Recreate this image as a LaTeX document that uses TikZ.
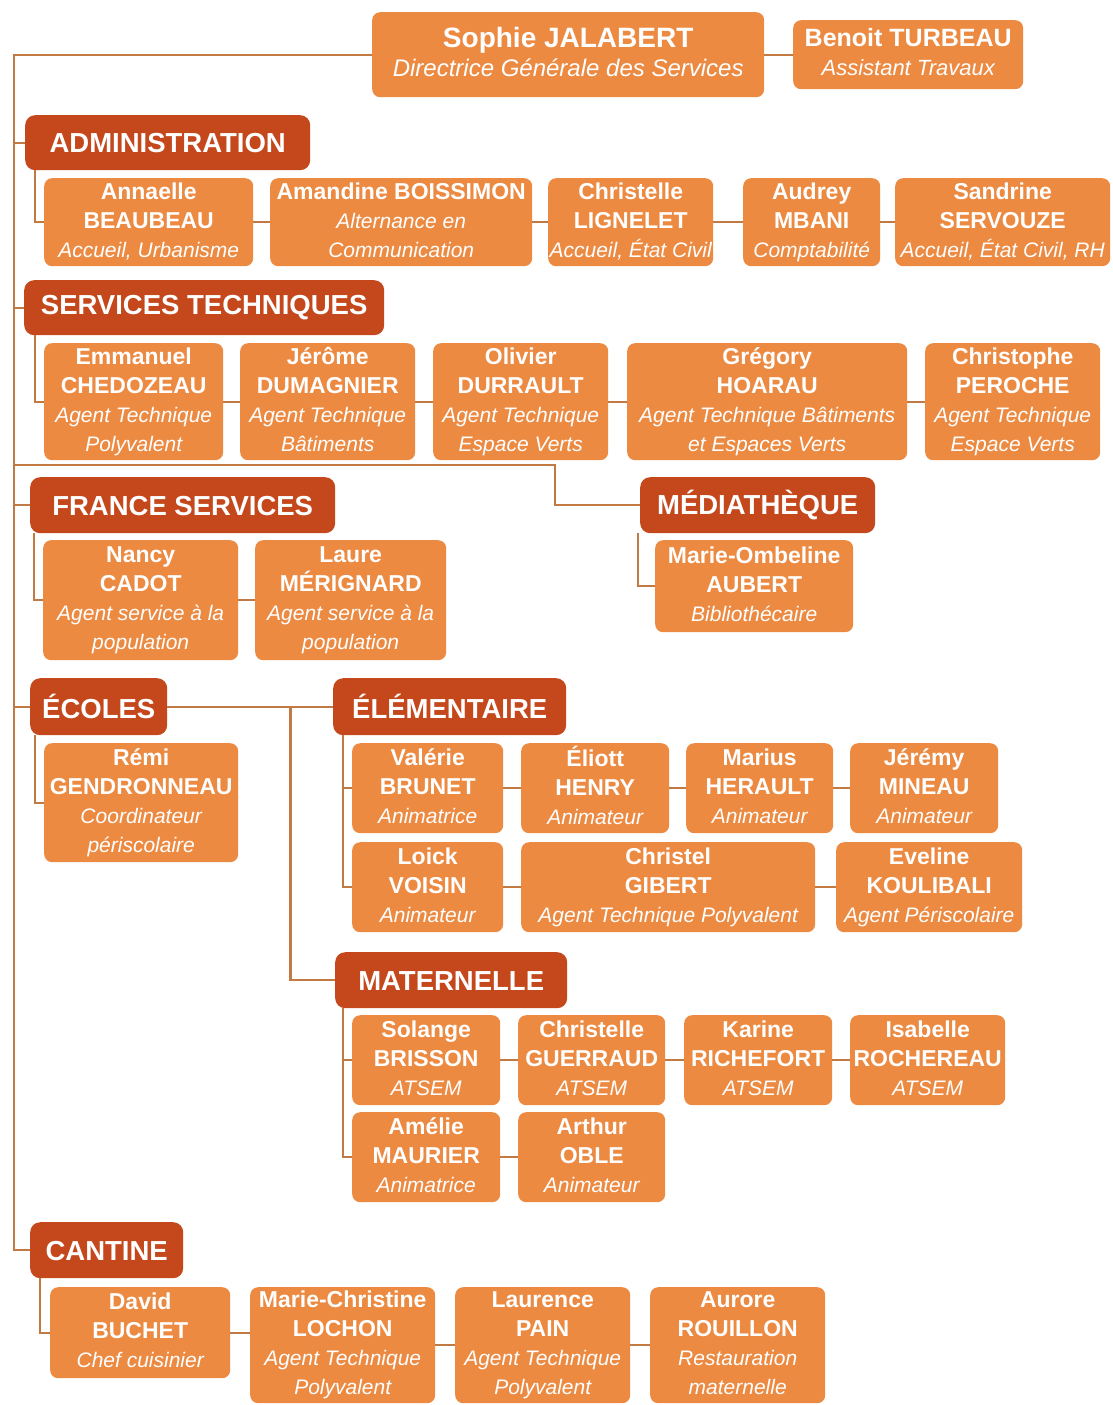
\documentclass[tikz,border=0pt]{standalone}
\usepackage{fontspec}
\setmainfont{Liberation Sans}
\definecolor{boxc}{HTML}{EC8A42}
\definecolor{hdrc}{HTML}{C4481C}
\definecolor{linec}{HTML}{C27A45}
\newcommand\role[1]{{\mdseries\itshape\fontsize{21}{29}\selectfont #1}}
\tikzset{
 pbox/.style={fill=boxc, rounded corners=8pt, text=white, align=center, inner sep=0pt, anchor=north west, font=\fontsize{23}{29}\selectfont\bfseries,
   execute at begin node={\rule{0pt}{22.5pt}}, execute at end node={\rule[-5pt]{0pt}{5pt}}},
 hbox/.style={fill=hdrc, rounded corners=10pt, text=white, align=center, inner sep=0pt, anchor=north west, font=\fontsize{27.5}{32}\selectfont\bfseries,
   execute at begin node={\rule{0pt}{20pt}}},
 conn/.style={draw=linec, line width=2.2pt},
}
\begin{document}
\begin{tikzpicture}[x=1pt,y=-1pt]
\useasboundingbox[fill=white] (0,0) rectangle (1112,1405);
% top
\node[pbox, minimum width=392pt, minimum height=85pt] (sophie) at (372,12) {{\fontsize{28}{34}\selectfont Sophie JALABERT}\\{\mdseries\itshape\fontsize{24}{30}\selectfont Directrice Générale des Services}};
\node[pbox, minimum width=230pt, minimum height=69pt] (benoit) at (793,20) {{\fontsize{25}{30}\selectfont Benoit TURBEAU}\\{\mdseries\itshape\fontsize{22}{29}\selectfont Assistant Travaux}};
% administration
\node[hbox, minimum width=285pt, minimum height=55pt] (admin) at (25,115) {ADMINISTRATION};
\node[pbox, minimum width=209pt, minimum height=88pt] (a1) at (44,178) {Annaelle\\BEAUBEAU\\\role{Accueil, Urbanisme}};
\node[pbox, minimum width=262pt, minimum height=88pt] (a2) at (270,178) {Amandine BOISSIMON\\\role{Alternance en}\\\role{Communication}};
\node[pbox, minimum width=165pt, minimum height=88pt] (a3) at (548,178) {Christelle\\LIGNELET\\\role{Accueil, État Civil}};
\node[pbox, minimum width=137pt, minimum height=88pt] (a4) at (743,178) {Audrey\\MBANI\\\role{Comptabilité}};
\node[pbox, minimum width=215pt, minimum height=88pt] (a5) at (895,178) {Sandrine\\SERVOUZE\\\role{Accueil, État Civil, RH}};
% services techniques
\node[hbox, minimum width=360pt, minimum height=55pt] (st) at (24,280) {SERVICES TECHNIQUES};
\node[pbox, minimum width=179pt, minimum height=117pt] (s1) at (44,343) {Emmanuel\\CHEDOZEAU\\\role{Agent Technique}\\\role{Polyvalent}};
\node[pbox, minimum width=175pt, minimum height=117pt] (s2) at (240,343) {Jérôme\\DUMAGNIER\\\role{Agent Technique}\\\role{Bâtiments}};
\node[pbox, minimum width=175pt, minimum height=117pt] (s3) at (433,343) {Olivier\\DURRAULT\\\role{Agent Technique}\\\role{Espace Verts}};
\node[pbox, minimum width=280pt, minimum height=117pt] (s4) at (627,343) {Grégory\\HOARAU\\\role{Agent Technique Bâtiments}\\\role{et Espaces Verts}};
\node[pbox, minimum width=175pt, minimum height=117pt] (s5) at (925,343) {Christophe\\PEROCHE\\\role{Agent Technique}\\\role{Espace Verts}};
% france services
\node[hbox, minimum width=305pt, minimum height=56pt] (fs) at (30,477) {FRANCE SERVICES};
\node[pbox, minimum width=195pt, minimum height=120pt] (f1) at (43,540) {Nancy\\CADOT\\\role{Agent service à la}\\\role{population}};
\node[pbox, minimum width=191pt, minimum height=120pt] (f2) at (255,540) {Laure\\MÉRIGNARD\\\role{Agent service à la}\\\role{population}};
% mediatheque
\node[hbox, minimum width=235pt, minimum height=56pt] (med) at (640,477) {MÉDIATHÈQUE};
\node[pbox, minimum width=198pt, minimum height=92pt] (m1) at (655,540) {Marie-Ombeline\\AUBERT\\\role{Bibliothécaire}};
% ecoles
\node[hbox, minimum width=137pt, minimum height=57pt] (ecoles) at (30,678) {ÉCOLES};
\node[pbox, minimum width=194pt, minimum height=119pt] (e1) at (44,743) {Rémi\\GENDRONNEAU\\\role{Coordinateur}\\\role{périscolaire}};
% elementaire
\node[hbox, minimum width=233pt, minimum height=57pt] (elem) at (333,678) {ÉLÉMENTAIRE};
\node[pbox, minimum width=151pt, minimum height=90pt] (el1) at (352,743) {Valérie\\BRUNET\\\role{Animatrice}};
\node[pbox, minimum width=148pt, minimum height=90pt] (el2) at (521,743) {Éliott\\HENRY\\\role{Animateur}};
\node[pbox, minimum width=147pt, minimum height=90pt] (el3) at (686,743) {Marius\\HERAULT\\\role{Animateur}};
\node[pbox, minimum width=148pt, minimum height=90pt] (el4) at (850,743) {Jérémy\\MINEAU\\\role{Animateur}};
\node[pbox, minimum width=151pt, minimum height=90pt] (el5) at (352,842) {Loick\\VOISIN\\\role{Animateur}};
\node[pbox, minimum width=294pt, minimum height=90pt] (el6) at (521,842) {Christel\\GIBERT\\\role{Agent Technique Polyvalent}};
\node[pbox, minimum width=186pt, minimum height=90pt] (el7) at (836,842) {Eveline\\KOULIBALI\\\role{Agent Périscolaire}};
% maternelle
\node[hbox, minimum width=232pt, minimum height=56pt] (mat) at (335,952) {MATERNELLE};
\node[pbox, minimum width=148pt, minimum height=90pt] (mt1) at (352,1015) {Solange\\BRISSON\\\role{ATSEM}};
\node[pbox, minimum width=147pt, minimum height=90pt] (mt2) at (518,1015) {Christelle\\GUERRAUD\\\role{ATSEM}};
\node[pbox, minimum width=148pt, minimum height=90pt] (mt3) at (684,1015) {Karine\\RICHEFORT\\\role{ATSEM}};
\node[pbox, minimum width=155pt, minimum height=90pt] (mt4) at (850,1015) {Isabelle\\ROCHEREAU\\\role{ATSEM}};
\node[pbox, minimum width=148pt, minimum height=90pt] (mt5) at (352,1112) {Amélie\\MAURIER\\\role{Animatrice}};
\node[pbox, minimum width=147pt, minimum height=90pt] (mt6) at (518,1112) {Arthur\\OBLE\\\role{Animateur}};
% cantine
\node[hbox, minimum width=153pt, minimum height=56pt] (cant) at (30,1222) {CANTINE};
\node[pbox, minimum width=180pt, minimum height=91pt] (c1) at (50,1287) {David\\BUCHET\\\role{Chef cuisinier}};
\node[pbox, minimum width=185pt, minimum height=116pt] (c2) at (250,1287) {Marie-Christine\\LOCHON\\\role{Agent Technique}\\\role{Polyvalent}};
\node[pbox, minimum width=175pt, minimum height=116pt] (c3) at (455,1287) {Laurence\\PAIN\\\role{Agent Technique}\\\role{Polyvalent}};
\node[pbox, minimum width=175pt, minimum height=116pt] (c4) at (650,1287) {Aurore\\ROUILLON\\\role{Restauration}\\\role{maternelle}};
% connectors
\coordinate (mj) at (14,465);
\draw[conn] (sophie.west) -| ([xshift=-16pt]cant.west) -- (cant.west);
\draw[conn] (sophie) -- (benoit);
\draw[conn] (admin.west) -- ++(-11,0);
\draw[conn] (st.west) -- ++(-10,0);
\draw[conn] (fs.west) -- ++(-16,0);
\draw[conn] (ecoles.west) -- ++(-16,0);
\draw[conn] (med.west) -- ++(-85,0) |- (mj);
\draw[conn] (admin.south west) ++(10,0) |- (a1.west);
\draw[conn] (a1) -- (a2) -- (a3) -- (a4) -- (a5);
\draw[conn] (st.south west) ++(11,0) |- (s1.west);
\draw[conn] (s1) -- (s2) -- (s3) -- (s4) -- (s5);
\draw[conn] (fs.south west) ++(4,0) |- (f1.west);
\draw[conn] (f1) -- (f2);
\draw[conn] (med.south west) ++(-2,0) |- (m1.west);
\draw[conn] (ecoles.south west) ++(5,0) |- (e1.west);
\draw[conn] (ecoles.east) -- (elem.west);
\draw[conn] (ecoles.east) ++(123,0) |- (mat.west);
\draw[conn] (elem.south west) ++(10,0) coordinate (elx) |- (el5.west);
\draw[conn] (elx |- el1.west) -- (el1.west);
\draw[conn] (el1) -- (el2) -- (el3) -- (el4);
\draw[conn] (el5) -- (el6) -- (el7);
\draw[conn] (mat.south west) ++(8,0) coordinate (mtx) |- (mt5.west);
\draw[conn] (mtx |- mt1.west) -- (mt1.west);
\draw[conn] (mt1) -- (mt2) -- (mt3) -- (mt4);
\draw[conn] (mt5) -- (mt6);
\draw[conn] (cant.south west) ++(10,0) |- (c1.west);
\draw[conn] (c1.east) -- (c1.east -| c2.west);
\draw[conn] (c2) -- (c3) -- (c4);
\end{tikzpicture}
\end{document}
